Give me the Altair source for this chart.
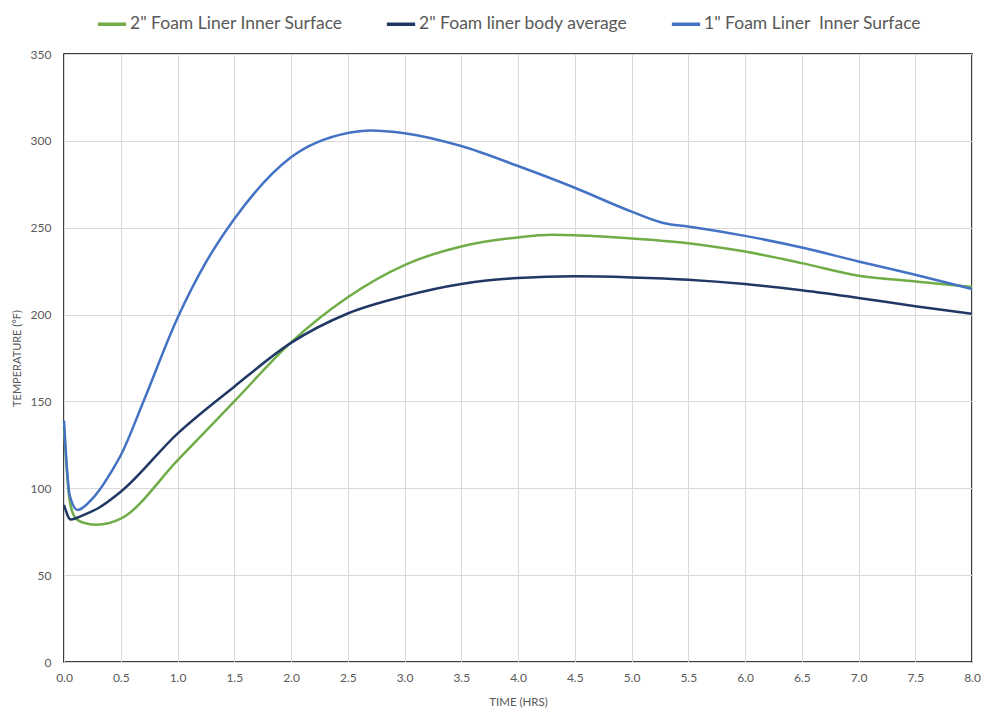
import altair as alt
import pandas as pd

# --- data ---
s1_name = '2" Foam Liner Inner Surface'
s1_time = [0, 0.05, 0.1, 0.18, 0.28, 0.4, 0.5, 1.0, 1.5, 2.0, 2.5, 3.0, 3.5, 4.0, 4.3, 4.5, 5.0, 5.5, 6.0, 6.5, 7.0, 7.5, 8.0]
s1_temp = [135, 93, 83, 80, 79, 80, 82.5, 116, 150, 184, 210, 228.5, 239.2, 244.4, 245.9, 245.7, 243.8, 241.1, 236.3, 229.6, 222.4, 219.1, 215.9]

s2_name = '2" Foam liner body average'
s2_time = [0, 0.06, 0.15, 0.3, 0.5, 1.0, 1.5, 2.0, 2.5, 3.0, 3.5, 4.0, 4.5, 5.0, 5.5, 6.0, 6.5, 7.0, 7.5, 8.0]
s2_temp = [90.5, 82, 84, 88.5, 98, 131.5, 158.5, 183.7, 200.6, 210.6, 217.6, 221, 222, 221.4, 220.1, 217.6, 214, 209.6, 204.8, 200.4]

s3_name = '1" Foam Liner\u00a0 Inner Surface'
s3_time = [0, 0.05, 0.12, 0.25, 0.44, 0.5, 0.7, 1.0, 1.25, 1.5, 2.0, 2.5, 2.7, 3.0, 3.5, 4.0, 4.5, 5.0, 5.29, 5.5, 6.0, 6.5, 7.0, 7.5, 8.0]
s3_temp = [139, 96, 87.5, 94, 112, 119, 150, 198, 230, 255, 290.5, 304.5, 306, 304.4, 297, 285.5, 273, 259.3, 252.6, 250.7, 245.3, 238.6, 230.6, 222.9, 214.7]

series_names = [s1_name, s2_name, s3_name]
series_colors = ["#70AD47", "#203864", "#4472C4"]
x_ticks = [i * 0.5 for i in range(17)]
y_ticks = [0, 50, 100, 150, 200, 250, 300, 350]

rows = []
for name, ts, vs in [(s1_name, s1_time, s1_temp), (s2_name, s2_time, s2_temp), (s3_name, s3_time, s3_temp)]:
    for t, v in zip(ts, vs):
        rows.append({"series": name, "time": t, "temp": v})
df = pd.DataFrame(rows)

FONT = "Lato"

chart = alt.Chart(df).mark_line(strokeWidth=2.5, interpolate="monotone").encode(
    x=alt.X("time:Q", scale=alt.Scale(domain=[0, 8], nice=False),
            axis=alt.Axis(title="TIME (HRS)", values=x_ticks, format=".1f", grid=True,
                          gridColor="#D9D9D9", gridWidth=1, domain=False, ticks=False,
                          labelFlush=False,
                          labelFont=FONT, labelFontSize=12, labelColor="#595959", labelPadding=10,
                          titleFont=FONT, titleFontSize=11.5, titleColor="#595959",
                          titleFontWeight="normal", titlePadding=13)),
    y=alt.Y("temp:Q", scale=alt.Scale(domain=[0, 350], nice=False),
            axis=alt.Axis(title="TEMPERATURE (°F)", values=y_ticks, grid=True,
                          gridColor="#D9D9D9", gridWidth=1, domain=False, ticks=False,
                          labelFlush=False,
                          labelFont=FONT, labelFontSize=12, labelColor="#595959", labelPadding=13,
                          titleFont=FONT, titleFontSize=11, titleColor="#595959",
                          titleFontWeight="normal", titlePadding=8)),
    color=alt.Color("series:N", sort=series_names,
                    scale=alt.Scale(domain=series_names, range=series_colors),
                    legend=alt.Legend(title=None, orient="none", direction="horizontal",
                                      legendX=32, legendY=-46, symbolType="stroke",
                                      symbolSize=800, symbolStrokeWidth=3.5,
                                      labelFont=FONT, labelFontSize=17.5, labelColor="#595959",
                                      columnPadding=36, labelOffset=2, labelLimit=400)),
    order=alt.Order("time:Q"),
).properties(
    width=908, height=608,
    autosize=alt.AutoSizeParams(type="none"),
    padding={"left": 56, "top": 46, "right": 9, "bottom": 48},
).configure_view(stroke="#000000", strokeWidth=1.5)

chart.save("out.html", embed_options={"renderer": "svg", "actions": False})
